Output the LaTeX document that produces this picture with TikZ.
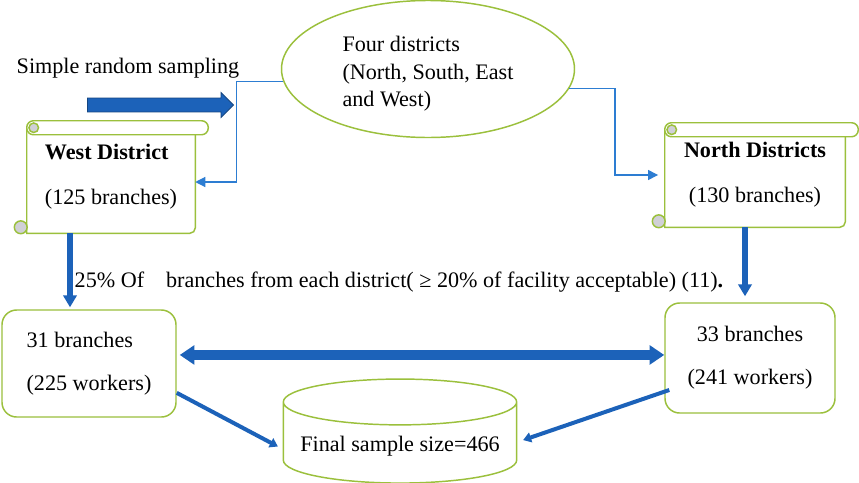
\documentclass[tikz,border=0pt]{standalone}
\usepackage{fontspec}
\setmainfont{Liberation Serif}
\usetikzlibrary{shapes,arrows.meta,positioning,calc}

\definecolor{leaf}{RGB}{155,192,60}
\definecolor{linkblue}{RGB}{45,125,210}
\definecolor{fatblue}{RGB}{28,98,185}
\definecolor{curlgray}{RGB}{208,208,214}

\begin{document}
\begin{tikzpicture}[x=0.75pt,y=-0.75pt,font=\fontsize{16.6}{20.6}\selectfont]
\tikzstyle{edgeline}=[draw=leaf,line width=1.1pt]
\tikzstyle{scroll}=[inner sep=0pt,font=\fontsize{16.6}{33.75}\selectfont,
  append after command={\pgfextra{
    \draw[edgeline] ($(\tikzlastnode.north west)+(0,7)$) -- (\tikzlastnode.south west)
      [rounded corners=4pt] -- (\tikzlastnode.south east) -- ($(\tikzlastnode.north east)+(0,14)$);
    \draw[edgeline,fill=white,rounded corners=5pt] (\tikzlastnode.north west) rectangle ($(\tikzlastnode.north east)+(13,14)$);
    \draw[edgeline,fill=curlgray] ($(\tikzlastnode.north west)+(7,7)$) circle[radius=3.6pt];
    \draw[edgeline,fill=curlgray] ($(\tikzlastnode.south west)+(-6,-6)$) circle[radius=4.8pt];
  }}]
\tikzstyle{sample}=[rectangle,edgeline,rounded corners=11pt,font=\fontsize{16.6}{32.25}\selectfont]
\tikzstyle{thinlink}=[linkblue,line width=0.9pt,-{Triangle[length=7.5pt,width=7.5pt]}]
\tikzstyle{fatlink}=[fatblue,line width=4.5pt,-{Triangle[length=9pt,width=10pt]}]
\tikzstyle{widelink}=[fatblue,line width=7.5pt,{Triangle[length=11pt,width=14pt]}-{Triangle[length=11pt,width=14pt]}]
\tikzstyle{slimlink}=[fatblue,line width=3pt,-{Triangle[length=6pt,width=7.5pt]}]

\useasboundingbox[fill=white] (0,0) rectangle (859,482);

\node[ellipse,edgeline,minimum width=219.75pt,minimum height=102.75pt,align=left] (four) at (428,69)
  {\rule{0pt}{19pt}Four districts\\(North, South, East\\and West)};
\node[anchor=base west] (srs) at (12,73) {Simple random sampling};
\node[single arrow,fill=fatblue,draw=fatblue!70!black,line width=0.6pt,inner xsep=0pt,inner ysep=4.9pt,
  minimum height=109.5pt,single arrow head extend=4.1pt] (srsarrow) at (157,105) {};

\node[scroll,minimum width=126pt,minimum height=84pt,align=left] (west) at (111,177)
  {\textbf{West District}\\(125 branches)};
\node[scroll,minimum width=135pt,minimum height=78pt,align=center] (north) at (755,175)
  {\textbf{North Districts}\\(130 branches)};

\node[anchor=base west] (share) at (70,287)
  {25\% Of\hspace{16.5pt}branches from each district( ≥ 20\% of facility acceptable) (11)\textbf{.}};

\node[sample,minimum width=130.5pt,minimum height=80.25pt,align=left] (west31) at (89,363.5)
  {31 branches\\(225 workers)};
\node[sample,minimum width=127.5pt,minimum height=82.5pt,align=center] (north33) at (750,358)
  {33 branches\\(241 workers)};
\node[cylinder,shape border rotate=90,edgeline,aspect=0.22,minimum width=175pt,minimum height=78pt] (final) at (400,446)
  {Final sample size=466};

% sampling links
\draw[thinlink] (four.185) -- ++(-47,0) |- ([yshift=-3.75pt]west.east);
\draw[thinlink,shorten >=5pt] (four.-8) -- ++(46,0) |- (north.west);

% 25% drop
\draw[fatlink,shorten >=1.5pt] ([xshift=-30.75pt]west.south) coordinate (wdrop) -- (wdrop |- west31.north);
\draw[fatlink,shorten >=4.5pt] ([xshift=-7.5pt]north.south) coordinate (ndrop) -- (ndrop |- north33.north);
\draw[widelink,shorten <=2.25pt] ([yshift=6.4pt]west31.east) coordinate (band) -- (band -| north33.west);

% to the total
\draw[slimlink,shorten >=4pt] ([yshift=-22pt]west31.east) -- ([yshift=-2.25pt]final.west);
\draw[slimlink,shorten >=4.5pt] ([xshift=3.75pt,yshift=-24pt]north33.west) -- ([yshift=3pt]final.east);
\end{tikzpicture}
\end{document}
